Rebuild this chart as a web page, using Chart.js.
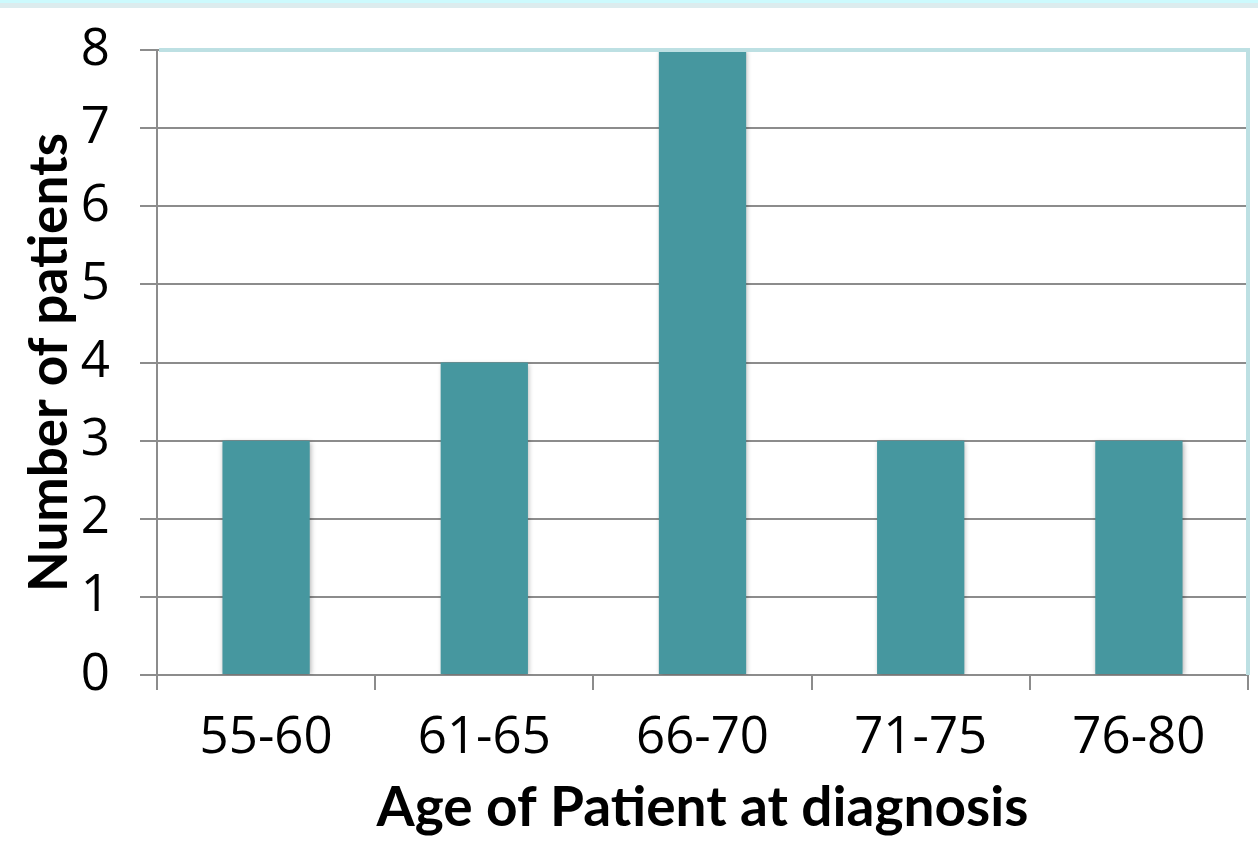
<!DOCTYPE html>
<html><head><meta charset="utf-8">
<style>html,body{margin:0;padding:0;background:#fff;}#wrap{width:1258px;height:847px;position:relative;}</style>
<script src="https://cdn.jsdelivr.net/npm/chart.js@4/dist/chart.umd.min.js"></script>
</head><body><div id="wrap"><canvas id="c" width="1258" height="847"></canvas></div>
<script>
const categories = ["55-60","61-65","66-70","71-75","76-80"];
const patients = [3,4,8,3,3];
const yTicks = [0,1,2,3,4,5,6,7,8];

const decor = {
  id:'decor',
  beforeDraw(chart){
    const ctx=chart.ctx;
    ctx.save();
    ctx.fillStyle='#fff';ctx.fillRect(0,0,chart.width,chart.height);
    ctx.fillStyle='#ccfafd';ctx.fillRect(0,0,chart.width,3);
    ctx.fillStyle='#dcecee';ctx.fillRect(0,3,chart.width,5);
    ctx.restore();
  },
  beforeDatasetsDraw(chart){
    const ctx=chart.ctx;ctx.save();
    ctx.shadowColor='rgba(0,0,0,0.3)';ctx.shadowBlur=5;ctx.shadowOffsetX=1;ctx.shadowOffsetY=1;
  },
  afterDatasetsDraw(chart){chart.ctx.restore();},
  afterDraw(chart){
    const a=chart.chartArea, ctx=chart.ctx;
    ctx.save();
    ctx.strokeStyle='#bde0e3';ctx.lineWidth=4;
    ctx.beginPath();
    ctx.moveTo(a.left+2,a.top);ctx.lineTo(a.right,a.top);ctx.lineTo(a.right,a.bottom);
    ctx.stroke();
    ctx.restore();
  }
};

const tickFont = {family:'"Open Sans", sans-serif',size:51};

new Chart(document.getElementById('c'),{
  type:'bar',
  data:{labels:categories,datasets:[{data:patients,backgroundColor:'#46979f',borderWidth:0,barPercentage:0.4,categoryPercentage:1}]},
  options:{
    responsive:false,animation:false,
    layout:{padding:{top:50,right:10,bottom:0,left:0}},
    plugins:{legend:{display:false},tooltip:{enabled:false}},
    scales:{
      x:{
        grid:{drawOnChartArea:false,drawTicks:true,tickLength:15,color:'#8c8c8c',lineWidth:2},
        border:{color:'#8c8c8c',width:2},
        ticks:{color:'#000',font:tickFont,padding:18},
        title:{display:true,text:'Age of Patient at diagnosis',color:'#000',font:{family:'Lato',size:55,weight:'bold'},padding:{top:0,bottom:6}},
        afterFit(s){s.height=172;s.paddingLeft=0;s.paddingRight=0;}
      },
      y:{
        min:0,max:8,
        afterBuildTicks(s){s.ticks=yTicks.map(v=>({value:v}));},
        grid:{color:'#8c8c8c',lineWidth:2,tickLength:17,drawTicks:true},
        border:{color:'#8c8c8c',width:2},
        ticks:{color:'#000',font:tickFont,padding:30},
        title:{display:true,text:'Number of patients',color:'#000',font:{family:'Lato',size:53,weight:'bold'},padding:{top:18,bottom:0}},
        afterFit(s){s.width=157;s.paddingTop=0;s.paddingBottom=0;}
      }
    }
  },
  plugins:[decor]
});
</script></body></html>
